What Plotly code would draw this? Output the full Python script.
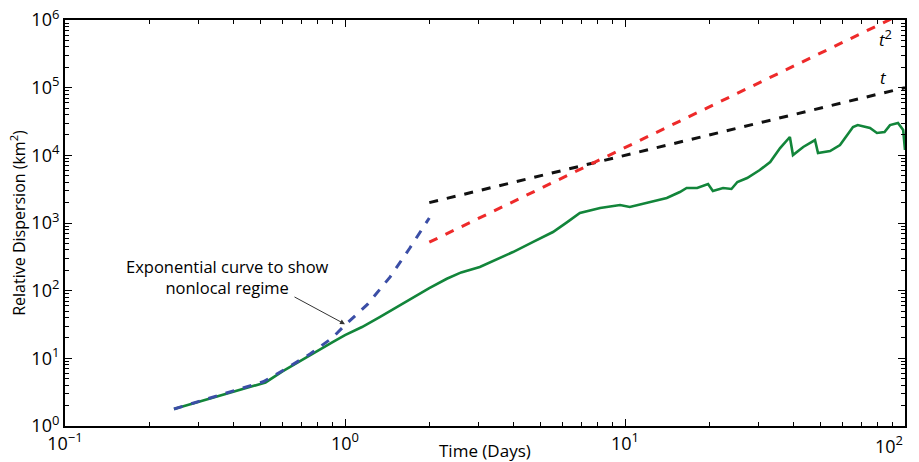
import plotly.graph_objects as go
import numpy as np

# Observed relative dispersion (green)
obs_t = [0.245, 0.3, 0.4, 0.5, 0.52, 0.6, 0.75, 0.9, 1.0, 1.15, 1.33, 1.57, 2.0, 2.31, 2.6, 3.03,
         3.5, 3.98, 4.7, 5.53, 6.2, 6.9, 8.15, 9.6, 10.4, 12.0, 14.1, 15.7, 16.6, 18.1, 19.8,
         20.6, 22.4, 24.0, 25.2, 27.3, 30.3, 33.0, 35.8, 38.8, 39.8, 43.3, 47.7, 48.9, 54.0,
         58.6, 65.2, 67.8, 75.0, 79.4, 84.5, 88.4, 94.4, 98.5, 99.5, 100.0]
obs_d = [1.78, 2.27, 3.23, 4.2, 4.4, 6.45, 11.2, 17.2, 22.1, 29, 40.8, 61, 109, 150, 186, 224,
         292, 372, 525, 736, 1023, 1405, 1666, 1845, 1722, 1975, 2340, 2870, 3290, 3290, 3770,
         2970, 3290, 3180, 4035, 4620, 6070, 7970, 12800, 18660, 10100, 13280, 16830, 10820, 11580,
         14200, 26200, 28000, 25300, 21400, 22100, 28000, 30000, 23700, 13300, 12000]

# Exponential fit (blue dashed)
exp_t = [0.245, 0.3, 0.4, 0.51, 0.6, 0.75, 0.9, 1.0, 1.2, 1.45, 1.7, 2.0]
exp_d = [1.78, 2.3, 3.3, 4.5, 6.6, 11.6, 20, 31, 62, 160, 420, 1185]

# Power laws
t_law_t = [2.0, 100.0]
t_law_d = [2000, 100000]
t2_law_t = [2.0, 100.0]
t2_law_d = [520, 1300000]

def sup(base, exp):
    return base + "<sup><span style='font-size:13px'>" + exp + "</span></sup>"

x_tickvals = [0.1, 1, 10, 100]
x_ticktext = [sup("10", "\u22121"), sup("10", "0"), sup("10", "1"), ""]
y_tickvals = [1, 10, 100, 1000, 10000, 100000, 1000000]
y_ticktext = [sup("10", str(k)) for k in range(7)]

def minor_vals(lo, hi):
    out = []
    for k in range(lo, hi):
        for m in range(2, 10):
            out.append(m * 10.0 ** k)
    return out

fig = go.Figure()
fig.add_trace(go.Scatter(x=obs_t, y=obs_d, mode="lines",
                         line=dict(color="#12853a", width=2.6), showlegend=False))
fig.add_trace(go.Scatter(x=exp_t, y=exp_d, mode="lines",
                         line=dict(color="#3b4ea6", width=3, dash="dash"), showlegend=False))
fig.add_trace(go.Scatter(x=t_law_t, y=t_law_d, mode="lines",
                         line=dict(color="#111111", width=3, dash="dash"), showlegend=False))
fig.add_trace(go.Scatter(x=t2_law_t, y=t2_law_d, mode="lines",
                         line=dict(color="#ee2a2a", width=3, dash="dash"), showlegend=False))

font_family = "Open Sans, Noto Sans, sans-serif"

fig.add_annotation(x=np.log10(85.5), y=np.log10(5.4e5),
                   text="<i>t</i><sup><span style='font-size:13px'>2</span></sup>",
                   showarrow=False, font=dict(size=17, color="black", family=font_family))
fig.add_annotation(x=np.log10(84), y=np.log10(1.39e5), text="<i>t</i>",
                   showarrow=False, font=dict(size=17, color="black", family=font_family))
fig.add_annotation(x=np.log10(0.38), y=np.log10(160),
                   text="Exponential curve to show<br>nonlocal regime",
                   showarrow=False, align="center",
                   font=dict(size=16.5, color="black", family=font_family))
fig.add_annotation(x=np.log10(1.0), y=np.log10(32), text="", showarrow=True,
                   ax=-52, ay=-28, arrowhead=2, arrowsize=1, arrowwidth=1,
                   arrowcolor="#333333")
# last x tick label, kept inside the page as in the reference
fig.add_annotation(x=1, y=0, xref="paper", yref="paper", xanchor="right", yanchor="top",
                   yshift=-3, text=sup("10", "2"), showarrow=False,
                   font=dict(size=18, color="black", family=font_family))
# x axis title
fig.add_annotation(x=0.5, y=0, xref="paper", yref="paper", xanchor="center", yanchor="middle",
                   yshift=-24, borderpad=0, text="Time (Days)", showarrow=False,
                   font=dict(size=17, color="black", family=font_family))

axis_common = dict(type="log", showline=True, linecolor="black", linewidth=2,
                   mirror="ticks", ticks="inside", ticklen=7, tickwidth=1,
                   tickcolor="black", showgrid=False, zeroline=False, automargin=False,
                   ticklabeloverflow="allow",
                   tickfont=dict(size=18, color="black", family=font_family))

fig.update_xaxes(range=[-1, 2], tickvals=x_tickvals, ticktext=x_ticktext,
                 minor=dict(ticks="inside", ticklen=4, tickcolor="black",
                            tickvals=minor_vals(-1, 2), showgrid=False),
                 **axis_common)
fig.update_yaxes(range=[0, 6], tickvals=y_tickvals, ticktext=y_ticktext,
                 minor=dict(ticks="inside", ticklen=4, tickcolor="black",
                            tickvals=minor_vals(0, 6), showgrid=False),
                 title=dict(text="Relative Dispersion (km<sup>2</sup>)", standoff=2,
                            font=dict(size=16, color="black", family=font_family)),
                 **axis_common)

fig.update_layout(width=919, height=462, plot_bgcolor="white", paper_bgcolor="white",
                  margin=dict(l=65, r=14, t=20, b=36), showlegend=False)

# remove the default 8px page margin so the figure fills the window exactly
fig.write_html("out.html", config={"displayModeBar": False},
               post_script="document.body.style.margin='0px';")
